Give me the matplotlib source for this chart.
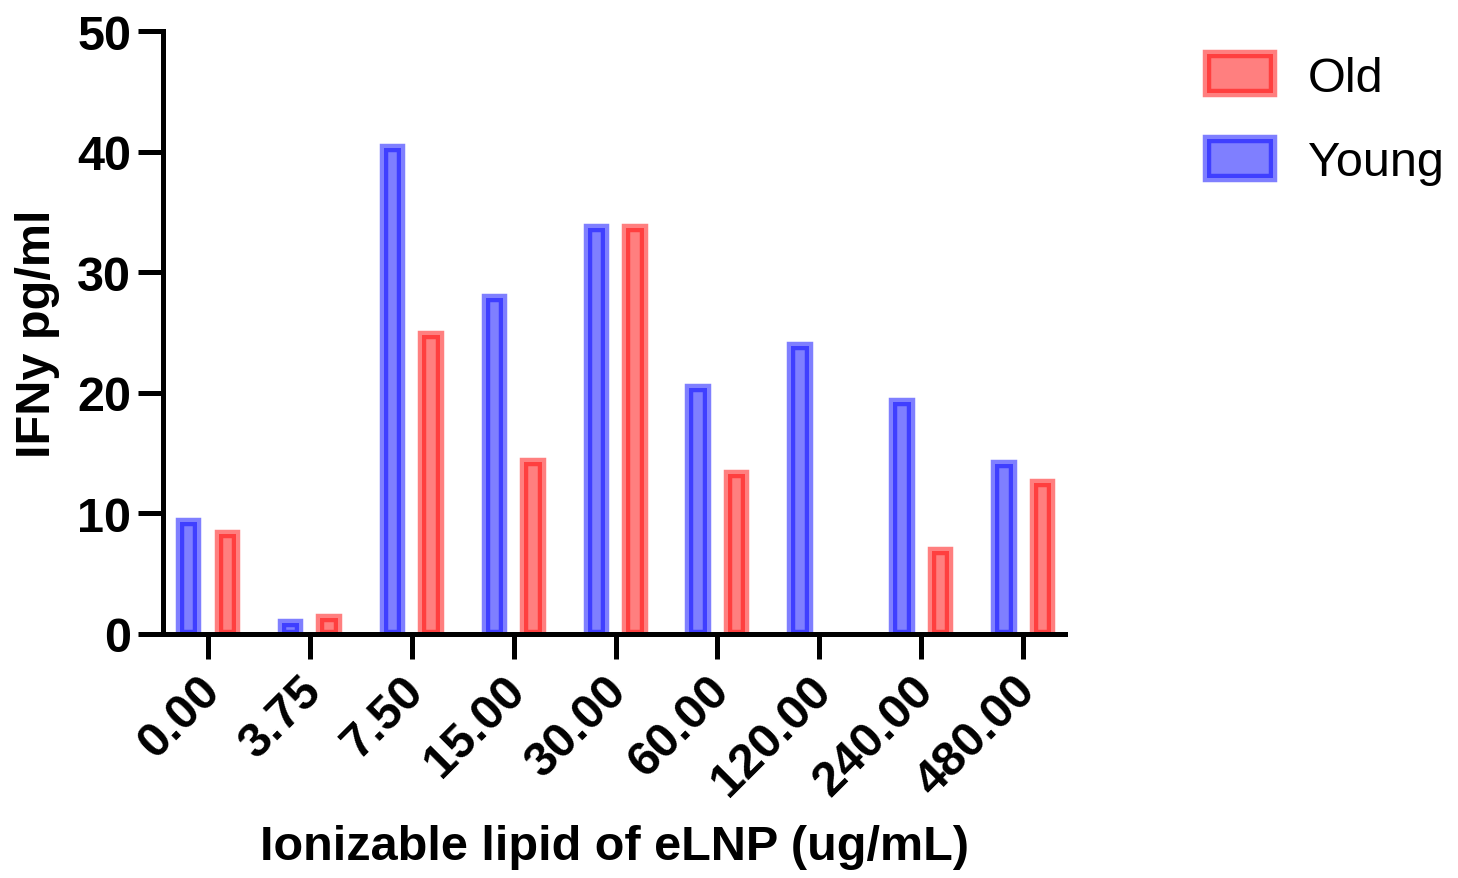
import matplotlib
matplotlib.use('Agg')
import matplotlib.pyplot as plt
import matplotlib.transforms as mtrans
from matplotlib.patches import Patch
import numpy as np

#### Data
doses = ['0.00', '3.75', '7.50', '15.00', '30.00', '60.00', '120.00', '240.00', '480.00']
young = [9.3, 0.95, 40.3, 27.9, 33.7, 20.4, 23.9, 19.2, 14.1]
old = [8.3, 1.3, 24.8, 14.3, 33.7, 13.3, 0.0, 6.9, 12.5]

blue_c = (0.0, 0.0, 1.0, 0.5)
red_c = (1.0, 0.0, 0.0, 0.5)
FS = 35

plt.rcParams['font.family'] = ['Liberation Sans', 'DejaVu Sans']

fig = plt.figure(figsize=(14.58, 8.79), dpi=100)
W, H = 1458, 879
ax = fig.add_axes([163/W, 1-635/H, (1065-163)/W, (635-32)/H])

x = np.arange(len(doses))
bw = 0.17
off = 0.19
# zero-height bars are not drawn (no edge line on the axis)
for vals, dx, c in [(young, -off, blue_c), (old, off, red_c)]:
	v = np.array(vals)
	m = v > 0
	ax.bar(x[m]+dx, v[m], width=bw, color=c, edgecolor=c, linewidth=6.1, zorder=2)

ax.set_xlim(-0.44, 8.41)
ax.set_ylim(0, 50)
ax.set_yticks([0, 10, 20, 30, 40, 50])

# spines
for s in ['top', 'right']:
	ax.spines[s].set_visible(False)
for s in ['left', 'bottom']:
	ax.spines[s].set_linewidth(3.6)
ax.tick_params(axis='both', width=3.6, length=18, labelsize=FS)
ax.tick_params(axis='y', pad=5)
ax.tick_params(axis='x', pad=6)
ax.set_xticks(x)
ax.set_xticklabels(doses, rotation=45, ha='right', rotation_mode='anchor')
shift = mtrans.ScaledTranslation(-11/100, 0, fig.dpi_scale_trans)
for lab in ax.get_xticklabels():
	lab.set_transform(lab.get_transform() + shift)
for lab in ax.get_xticklabels() + ax.get_yticklabels():
	lab.set_fontweight('bold')

ax.set_ylabel('IFNy pg/ml', fontsize=FS, fontweight='bold', labelpad=12)
ax.set_xlabel('Ionizable lipid of eLNP (ug/mL)', fontsize=FS, fontweight='bold', labelpad=14)

# legend
handles = [Patch(facecolor=red_c, edgecolor=red_c, linewidth=6.1, label='Old'),
		   Patch(facecolor=blue_c, edgecolor=blue_c, linewidth=6.1, label='Young')]
fig.legend(handles=handles, loc='upper left', bbox_to_anchor=(1183/W, 1-31/H),
		   frameon=False, fontsize=FS, handlelength=1.35, handleheight=0.86,
		   labelspacing=0.78, handletextpad=0.72, borderpad=0)

fig.savefig('out.png', dpi=100)
